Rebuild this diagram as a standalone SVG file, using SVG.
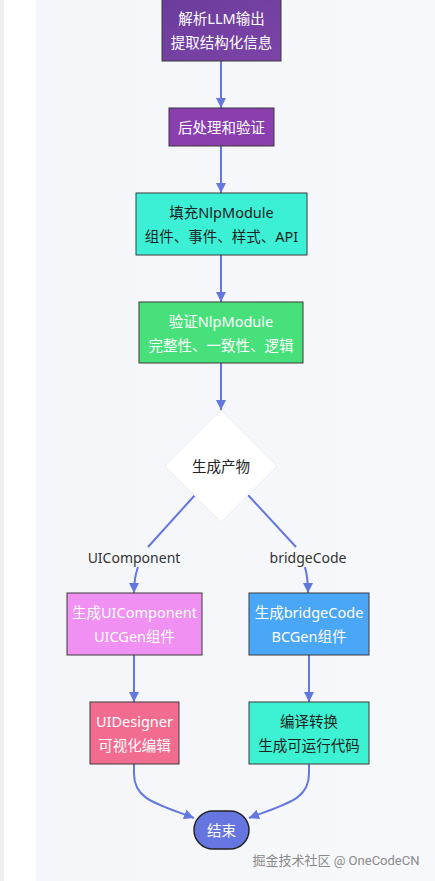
<svg xmlns="http://www.w3.org/2000/svg" width="435" height="881" viewBox="0 0 435 881">
<defs>
<linearGradient id="bgG" x1="0" y1="0" x2="1" y2="0">
<stop offset="0" stop-color="#f5f6f9"/><stop offset="1" stop-color="#f7f8fb"/>
</linearGradient>
<linearGradient id="g1" x1="0" y1="0" x2="1" y2="1">
<stop offset="0" stop-color="#6a3d9c"/><stop offset="1" stop-color="#7d43a8"/>
</linearGradient>
<marker id="arr" viewBox="0 0 10 10" refX="10" refY="5" markerWidth="10" markerHeight="10" markerUnits="userSpaceOnUse" orient="auto">
<path d="M0,0 L10,5 L0,10 z" fill="#6277e0"/>
</marker>
<style>
.n{stroke:#3a3a3a;stroke-width:1}
.t{font-family:"Noto Sans","Noto Sans CJK SC",sans-serif;font-size:14.5px;text-anchor:middle;dominant-baseline:central}
.w{fill:#ffffff}
.d{fill:#222222}
.e{fill:none;stroke:#6277e0;stroke-width:2}
.lb{font-family:"Noto Sans","Noto Sans CJK SC",sans-serif;font-size:14px;text-anchor:middle;dominant-baseline:central;fill:#333333}
</style>
</defs>
<rect x="0" y="0" width="435" height="881" fill="#ffffff"/>
<rect x="0" y="0" width="4" height="881" fill="#efefef"/>
<rect x="36" y="0" width="399" height="881" fill="url(#bgG)"/>

<g id="connectors">
<path class="e" d="M221,61 L221,108" marker-end="url(#arr)"/>
<path class="e" d="M221,146 L221,193" marker-end="url(#arr)"/>
<path class="e" d="M221,255 L221,302" marker-end="url(#arr)"/>
<path class="e" d="M221,363 L221,410" marker-end="url(#arr)"/>
<path class="e" d="M195,495 L148,547"/>
<path class="e" d="M138,567 Q134,578 134,593" marker-end="url(#arr)"/>
<path class="e" d="M248,495 L296,547"/>
<path class="e" d="M305,567 Q308,578 308,593" marker-end="url(#arr)"/>
<path class="e" d="M134,655 L134,702" marker-end="url(#arr)"/>
<path class="e" d="M309,655 L309,702" marker-end="url(#arr)"/>
<path class="e" d="M134,764 L134,774 C134,800 158,804 194,818" marker-end="url(#arr)"/>
<path class="e" d="M309,764 L309,774 C309,800 285,804 249,818" marker-end="url(#arr)"/>
<text class="lb" x="134" y="557">UIComponent</text>
<text class="lb" x="308" y="557">bridgeCode</text>
</g>

<g id="n1">
<rect class="n" x="162" y="-1" width="119" height="62" fill="url(#g1)"/>
<text class="t w" x="221.5" y="18">解析LLM输出</text>
<text class="t w" x="221.5" y="42">提取结构化信息</text>
</g>
<g id="n2">
<rect class="n" x="169" y="108" width="105" height="38" fill="#8b3fae"/>
<text class="t w" x="221.5" y="127">后处理和验证</text>
</g>
<g id="n3">
<rect class="n" x="136" y="193" width="171" height="62" fill="#3cf0d6"/>
<text class="t d" x="221.5" y="212">填充NlpModule</text>
<text class="t d" x="221.5" y="236">组件、事件、样式、API</text>
</g>
<g id="n4">
<rect class="n" x="139" y="302" width="164" height="61" fill="#48e07a"/>
<text class="t w" x="221" y="321">验证NlpModule</text>
<text class="t w" x="221" y="345">完整性、一致性、逻辑</text>
</g>
<g id="n5">
<polygon points="221,410 277,466 221,522 165,466" fill="#ffffff" stroke="#ececf2" stroke-width="1"/>
<text class="t d" x="221" y="466">生成产物</text>
</g>
<g id="n6">
<rect class="n" x="67" y="593" width="135" height="62" fill="#ef90f2"/>
<text class="t w" x="134.5" y="612">生成UIComponent</text>
<text class="t w" x="134.5" y="636">UICGen组件</text>
</g>
<g id="n7">
<rect class="n" x="249" y="593" width="120" height="62" fill="#4aa6f6"/>
<text class="t w" x="309" y="612">生成bridgeCode</text>
<text class="t w" x="309" y="636">BCGen组件</text>
</g>
<g id="n8">
<rect class="n" x="90" y="702" width="89" height="62" fill="#f26c90"/>
<text class="t w" x="134.5" y="721">UIDesigner</text>
<text class="t w" x="134.5" y="745">可视化编辑</text>
</g>
<g id="n9">
<rect class="n" x="249" y="702" width="120" height="62" fill="#3cf2d2"/>
<text class="t d" x="309" y="721">编译转换</text>
<text class="t d" x="309" y="745">生成可运行代码</text>
</g>
<g id="n10">
<rect x="194" y="811" width="55" height="38" rx="19" ry="19" fill="#6676e0" stroke="#222222" stroke-width="1.5"/>
<text class="t w" x="221.5" y="830">结束</text>
</g>
<text x="336" y="860" font-family="Roboto,&quot;Noto Sans CJK SC&quot;,sans-serif" font-size="13" fill="#8a8a8a" text-anchor="middle" dominant-baseline="central">掘金技术社区 @ OneCodeCN</text>
</svg>
